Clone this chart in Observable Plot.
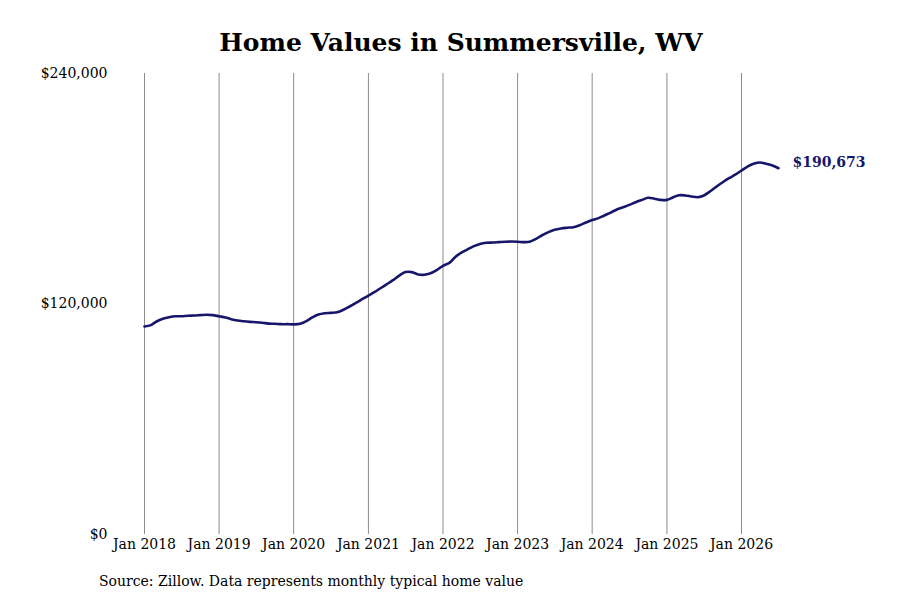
<!DOCTYPE html>
<html><head><meta charset="utf-8">
<script src="https://cdn.jsdelivr.net/npm/d3@7"></script>
<script src="https://cdn.jsdelivr.net/npm/@observablehq/plot@0.6"></script>
<style>
body{margin:0;background:#fff;}
#wrap{position:relative;width:900px;height:600px;font-family:"DejaVu Serif",serif;color:#000;overflow:hidden;}
#title{position:absolute;left:11px;width:900px;top:28px;text-align:center;font-weight:bold;font-size:25px;line-height:30px;}
#chart{position:absolute;left:0;top:0;}
#caption{position:absolute;left:99px;top:572px;font-size:14px;line-height:18px;}
</style></head><body>
<div id="wrap">
<div id="chart"></div>
<div id="title">Home Values in Summersville, WV</div>
<div id="caption">Source: Zillow. Data represents monthly typical home value</div>
</div>
<script>
// Monthly typical home value (thousands of $), starting Jan 2018
const startDate = "2018-01-01";
const v2018 = [108.3,109.0,110.9,112.3,113.1,113.6,113.6,113.9,114.0,114.2,114.4,114.2];
const v2019 = [113.6,113.0,112.1,111.4,111.0,110.7,110.5,110.2,109.8,109.7,109.5,109.5];
const v2020 = [109.4,109.7,111.0,113.0,114.5,115.2,115.4,115.7,117.0,118.7,120.6,122.5];
const v2021 = [124.4,126.3,128.2,130.3,132.4,134.8,136.6,136.6,135.4,135.2,136.0,137.6];
const v2022 = [139.9,141.4,144.4,146.7,148.4,150.1,151.3,151.9,152.0,152.2,152.4,152.5];
const v2023 = [152.4,152.2,152.4,153.9,155.8,157.4,158.6,159.3,159.7,160.0,161.0,162.4];
const v2024 = [163.7,164.7,166.1,167.6,169.2,170.4,171.6,173.0,174.2,175.3,174.8,174.2];
const v2025 = [174.2,175.6,176.6,176.5,176.0,175.6,176.5,178.7,181.2,183.4,185.5,187.3];
const v2026 = [189.5,191.6,193.0,193.7,193.0,192.1,190.673];
const yTicks = [0, 120000, 240000];
const tickYears = ["2018","2019","2020","2021","2022","2023","2024","2025","2026"];
const lastLabel = "$190,673";

const all = [...v2018,...v2019,...v2020,...v2021,...v2022,...v2023,...v2024,...v2025,...v2026];
const start = new Date(startDate + "T00:00:00Z");
const data = all.map((v,i)=>({date: d3.utcMonth.offset(start,i), value: v*1000}));
const last = data[data.length-1];
const xTicks = tickYears.map(y=>new Date(y+"-01-01T00:00:00Z"));
const navy = "#16166b";

const chart = Plot.plot({
  width: 900, height: 600,
  marginTop: 73, marginBottom: 66, marginLeft: 144, marginRight: 122,
  style: {fontFamily: "DejaVu Serif, serif", fontSize: "14px", color: "#000", background: "#fff"},
  x: {type: "utc", domain: [data[0].date, last.date], label: null},
  y: {domain: [0, 240000], label: null},
  marks: [
    Plot.gridX(xTicks, {stroke: "#8c8c8c", strokeOpacity: 1, strokeWidth: 1}),
    Plot.axisX(xTicks, {tickSize: 0, tickPadding: 5, tickFormat: d3.utcFormat("%b %Y"), fontSize: 14, label: null}),
    Plot.axisY(yTicks, {tickSize: 0, tickPadding: 37, tickFormat: d => "$" + d3.format(",")(d), fontSize: 14, label: null}),
    Plot.line(data, {x: "date", y: "value", stroke: navy, strokeWidth: 2.6, curve: "catmull-rom"}),
    Plot.text([last], {x: "date", y: "value", text: () => lastLabel, textAnchor: "start", dx: 14, dy: -6, fill: navy, fontWeight: "bold", fontSize: 14})
  ]
});
document.getElementById("chart").appendChild(chart);
</script>
</body></html>
